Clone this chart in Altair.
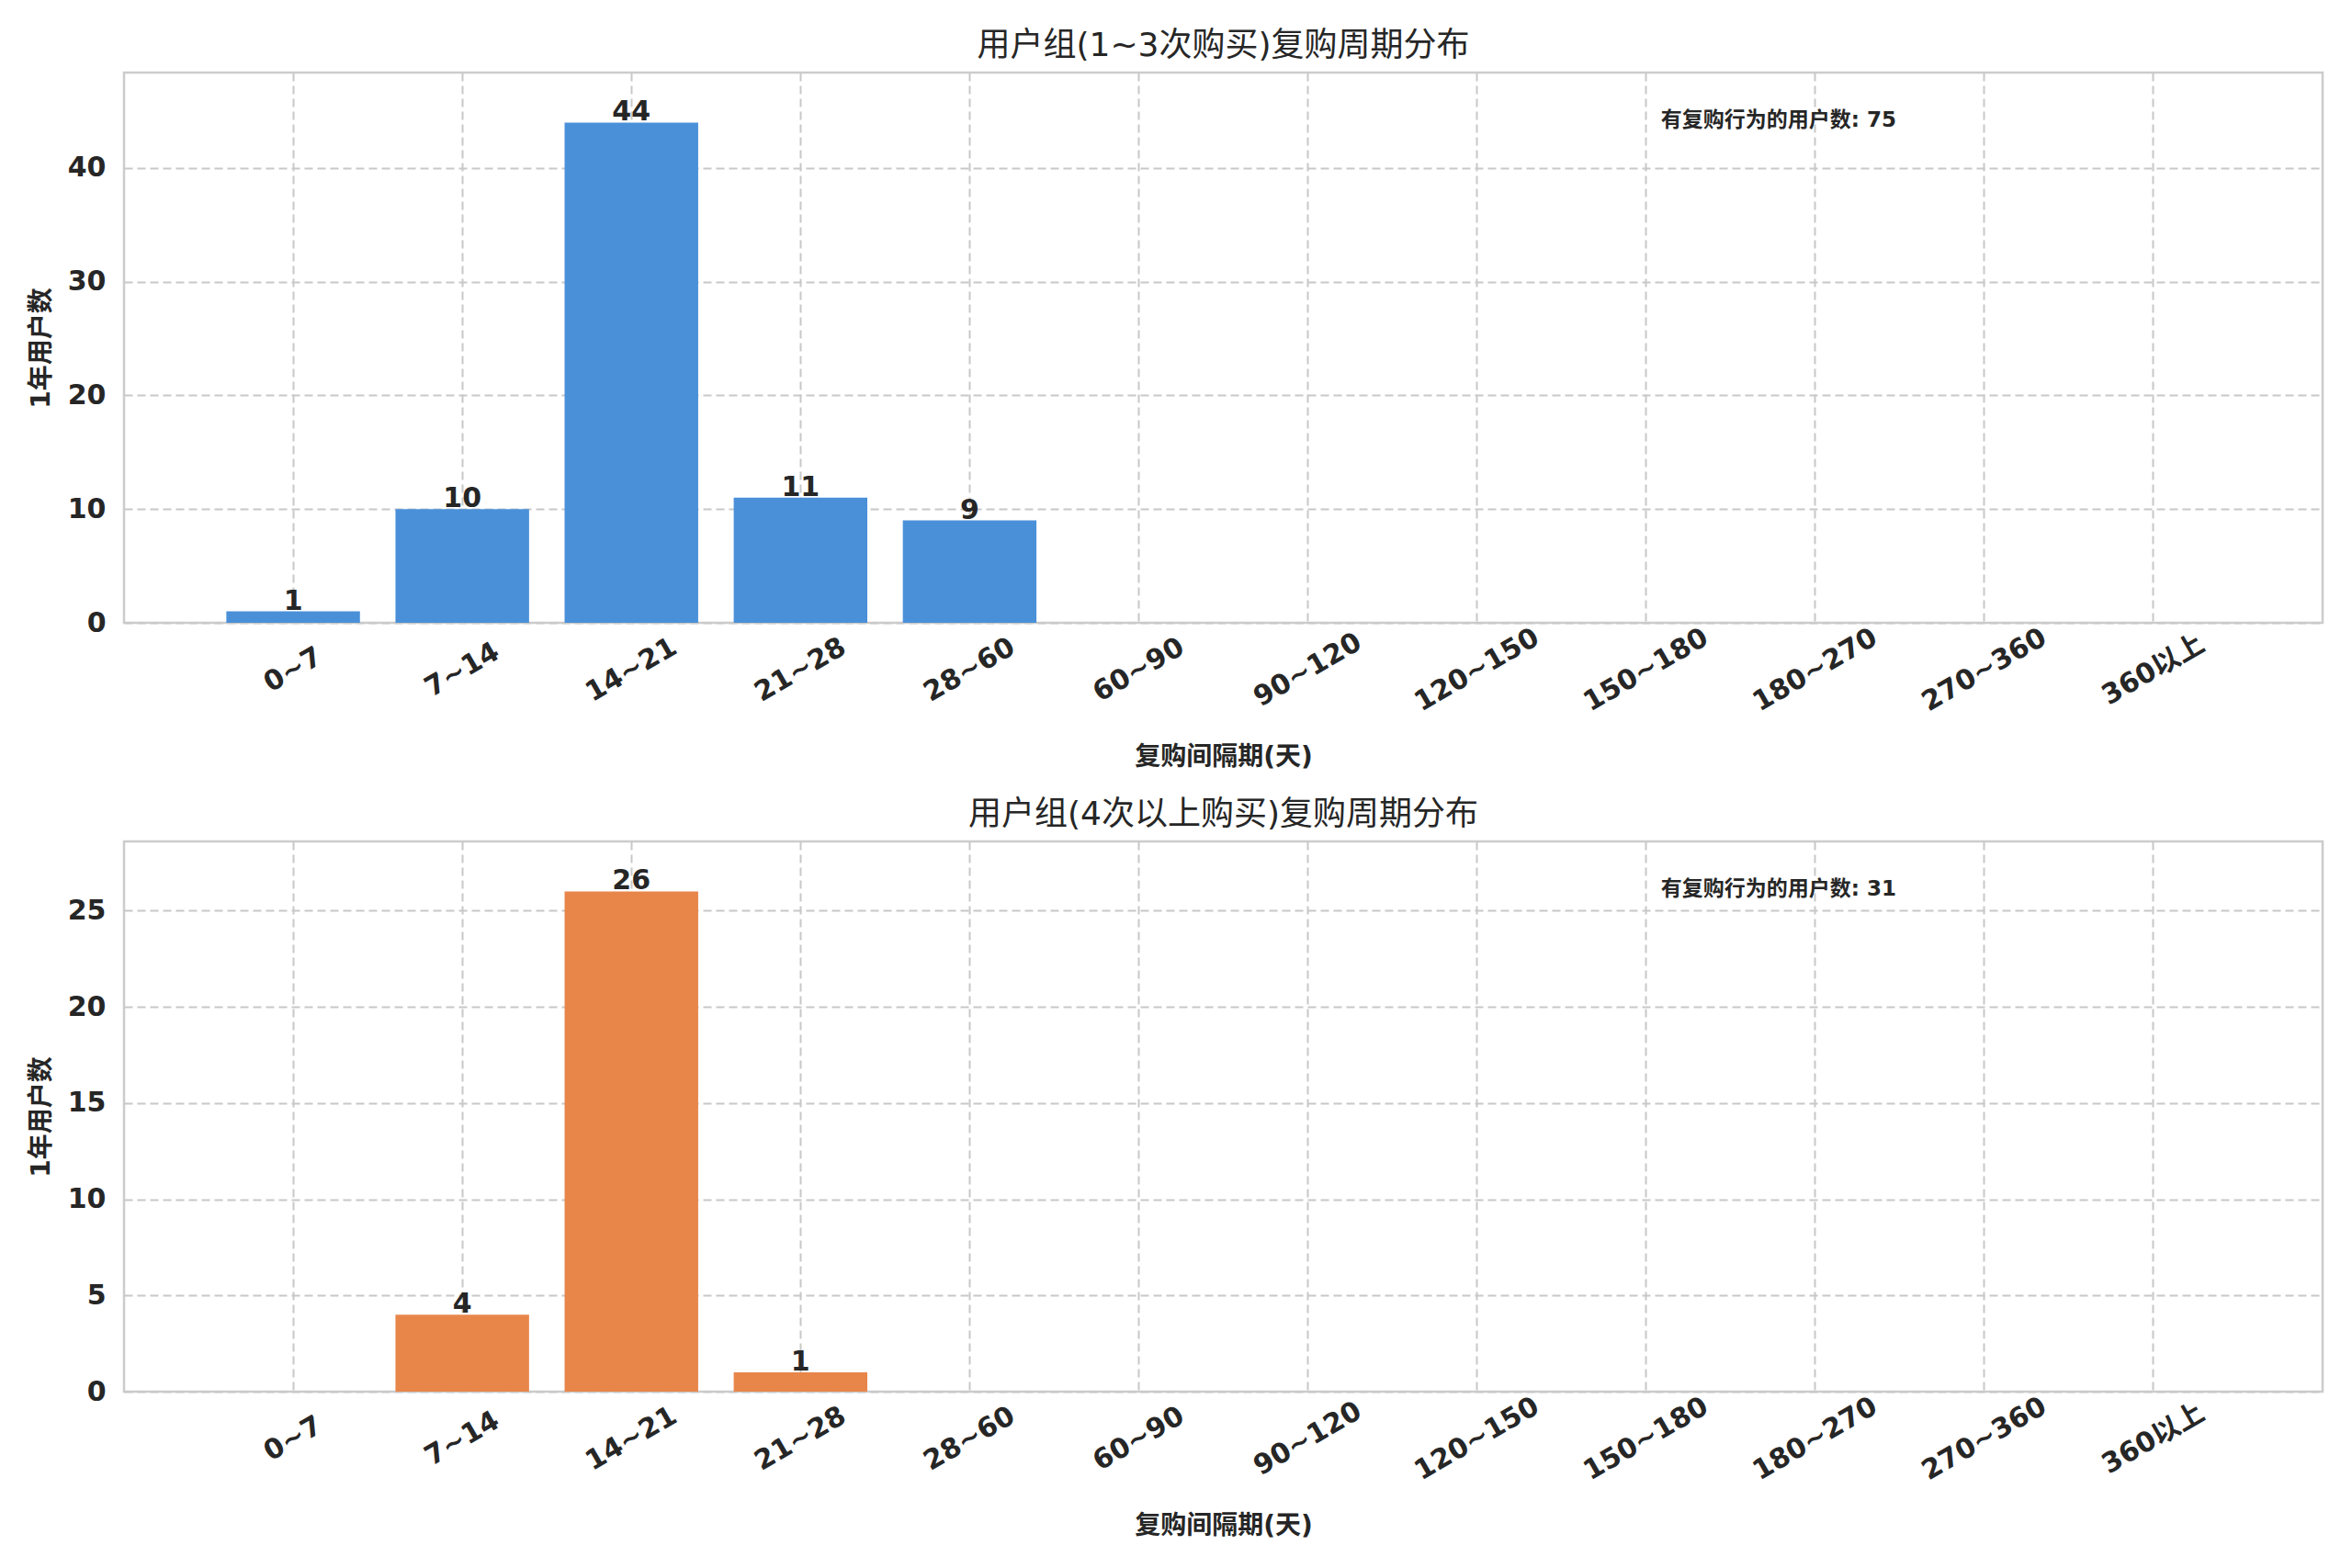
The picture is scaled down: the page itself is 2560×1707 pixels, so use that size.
import altair as alt
import pandas as pd

categories = ["0~7", "7~14", "14~21", "21~28", "28~60", "60~90", "90~120",
              "120~150", "150~180", "180~270", "270~360", "360以上"]
group1_counts = [1, 10, 44, 11, 9, 0, 0, 0, 0, 0, 0, 0]
group2_counts = [0, 4, 26, 1, 0, 0, 0, 0, 0, 0, 0, 0]
group1_total = 75
group2_total = 31
titles = ["用户组(1~3次购买)复购周期分布", "用户组(4次以上购买)复购周期分布"]
y_ticks1 = [0, 10, 20, 30, 40]
y_ticks2 = [0, 5, 10, 15, 20, 25]
x_title = "复购间隔期(天)"
y_title = "1年用户数"
note_label = "有复购行为的用户数"

FONT = "DejaVu Sans, Noto Sans CJK SC, sans-serif"
DARK = "#262626"
W, H = 2393, 599


def panel(values, color, title, ymax, yticks, total):
    df = pd.DataFrame({"cat": categories, "n": values})
    x = alt.X(
        "cat:N", sort=categories,
        scale=alt.Scale(paddingInner=0.21, paddingOuter=0.605),
        axis=alt.Axis(
            title=x_title, labelAngle=-30, labelAlign="center",
            labelBaseline="middle", labelPadding=51, ticks=False,
            domain=False, grid=True, bandPosition=0.5,
            titleY=146, titleBaseline="middle",
        ),
    )
    y = alt.Y(
        "n:Q",
        scale=alt.Scale(domain=[0, ymax], nice=False, zero=True),
        axis=alt.Axis(title=y_title, values=yticks, ticks=False, domain=False,
                      grid=True, labelPadding=20, titlePadding=14),
    )
    base = alt.Chart(df)
    bars = base.mark_bar(color=color).encode(x=x, y=y)
    labels = base.transform_filter("datum.n > 0").mark_text(
        baseline="alphabetic", dy=-2, font=FONT, fontSize=30,
        fontWeight="bold", color=DARK,
    ).encode(x=x, y=y, text="n:Q")
    note_df = pd.DataFrame({"cat": ["150~180"],
                            "label": [f"{note_label}: {total}"]})
    note = alt.Chart(note_df).mark_text(
        align="left", baseline="middle", dx=16, font=FONT, fontSize=23,
        fontWeight="bold", color=DARK,
    ).encode(x=alt.X("cat:N", sort=categories), y=alt.value(52),
             text="label:N")
    return alt.layer(bars, labels, note).properties(
        width=W, height=H,
        title=alt.TitleParams(titles[title], fontSize=36,
                              fontWeight="normal", font=FONT,
                              color=DARK, offset=10),
    )


top = panel(group1_counts, "#4a90d9", 0, 48.4, y_ticks1, group1_total)
bottom = panel(group2_counts, "#e8864a", 1, 28.6, y_ticks2, group2_total)

chart = alt.vconcat(top, bottom, spacing=27).properties(
    padding={"left": 22, "top": 22, "right": 5, "bottom": 5},
    background="white",
).configure_view(
    stroke="#cccccc", strokeWidth=2.5,
).configure_axis(
    labelFont=FONT, labelFontSize=30, labelFontWeight="bold", labelColor=DARK,
    titleFont=FONT, titleFontSize=28, titleFontWeight="bold", titleColor=DARK,
    gridColor="#c8c8c8", gridDash=[9, 5], gridWidth=2,
)

chart.save("out.html", embed_options={"renderer": "svg", "actions": False})
